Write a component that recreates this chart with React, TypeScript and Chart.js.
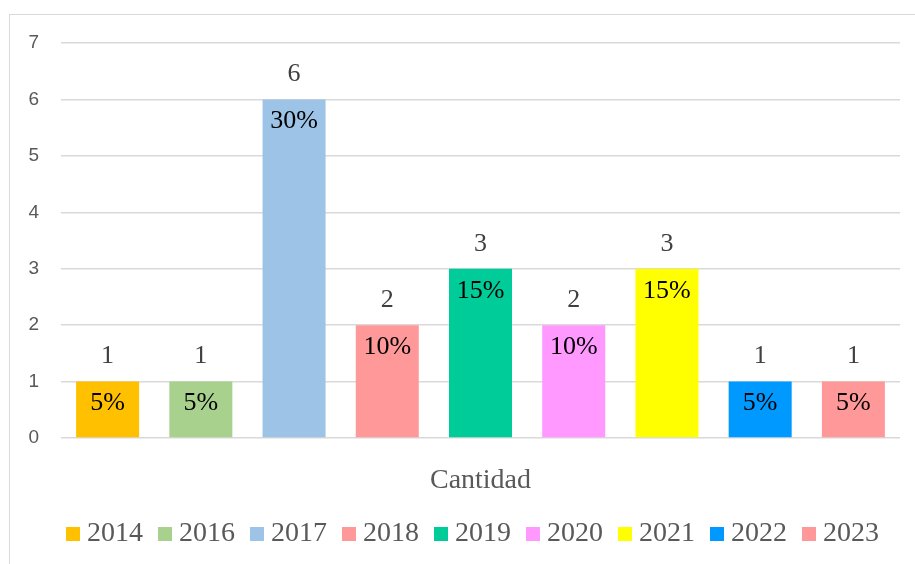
import React, { useEffect, useRef } from "react";
import { Chart, registerables } from "chart.js";

Chart.register(...registerables);

const categories = ["Cantidad"];
const years = ["2014", "2016", "2017", "2018", "2019", "2020", "2021", "2022", "2023"];
const counts = [1, 1, 6, 2, 3, 2, 3, 1, 1];
const colors = ["#FFC000", "#A9D18E", "#9DC3E6", "#FF9999", "#00CC99", "#FF99FF", "#FFFF00", "#0099FF", "#FF9999"];
const yTicks = [0, 1, 2, 3, 4, 5, 6, 7];

const SERIF = "'Liberation Serif', 'Times New Roman', serif";
const SANS = "'Liberation Sans', Arial, sans-serif";

const total = counts.reduce((a, b) => a + b, 0);

function makeSwatch(color: string) {
  const c = document.createElement("canvas");
  c.width = 14;
  c.height = 14;
  const g = c.getContext("2d")!;
  g.fillStyle = color;
  g.fillRect(0, 0, 14, 14);
  return c;
}

const labelPlugin = {
  id: "barLabels",
  afterDatasetsDraw(chart: any) {
    const ctx = chart.ctx;
    ctx.save();
    ctx.textAlign = "center";
    ctx.textBaseline = "middle";
    ctx.font = `26px ${SERIF}`;
    chart.data.datasets.forEach((ds: any, i: number) => {
      const meta = chart.getDatasetMeta(i);
      meta.data.forEach((bar: any, j: number) => {
        const v = ds.data[j];
        ctx.fillStyle = "#404040";
        ctx.fillText(String(v), bar.x, bar.y - 25);
        ctx.fillStyle = "#000000";
        const pct = Math.round((v / total) * 100) + "%";
        ctx.fillText(pct, bar.x, bar.y + 22);
      });
    });
    ctx.restore();
  },
};

export default function App() {
  const ref = useRef<HTMLCanvasElement | null>(null);
  useEffect(() => {
    if (!ref.current) return;
    const swatches = colors.map(makeSwatch);
    const chart = new Chart(ref.current, {
      type: "bar",
      data: {
        labels: categories,
        datasets: years.map((y, i) => ({
          label: y,
          data: [counts[i]],
          backgroundColor: colors[i],
          borderWidth: 0,
          categoryPercentage: 1,
          barPercentage: 0.676,
        })),
      },
      options: {
        animation: false,
        responsive: true,
        maintainAspectRatio: false,
        layout: { padding: { left: 0, right: 16, top: 28, bottom: 6 } },
        scales: {
          x: {
            grid: { display: false },
            border: { display: false },
            ticks: { color: "#595959", font: { family: SERIF, size: 28 }, padding: 18 },
            afterFit(scale: any) {
              scale.height = 61;
            },
          },
          y: {
            min: 0,
            max: 7,
            afterBuildTicks(scale: any) {
              scale.ticks = yTicks.map((v) => ({ value: v }));
            },
            grid: { color: "#D9D9D9", lineWidth: 1.5, drawTicks: false },
            border: { display: false },
            ticks: { color: "#595959", font: { family: SANS, size: 19 }, padding: 22 },
            afterFit(scale: any) {
              scale.width = 51;
              scale.paddingTop = 0;
            },
          },
        },
        plugins: {
          legend: {
            position: "bottom",
            align: "end",
            labels: {
              color: "#595959",
              font: { family: SERIF, size: 28 },
              usePointStyle: true,
              boxWidth: 1,
              boxHeight: 14,
              padding: 21,
              generateLabels(chart: any) {
                const items = Chart.defaults.plugins.legend.labels.generateLabels(chart);
                return items.map((it: any, i: number) => ({ ...it, pointStyle: swatches[i] }));
              },
            },
          },
          tooltip: { enabled: false },
        },
      },
      plugins: [labelPlugin],
    });
    return () => chart.destroy();
  }, []);

  return (
    <div
      style={{
        position: "fixed",
        left: 9,
        top: 14,
        width: 940,
        height: 600,
        border: "1px solid #D9D9D9",
        background: "#fff",
      }}
    >
      <div style={{ position: "absolute", left: 0, top: 0, width: 906, height: 549 }}>
        <canvas ref={ref} />
      </div>
    </div>
  );
}
